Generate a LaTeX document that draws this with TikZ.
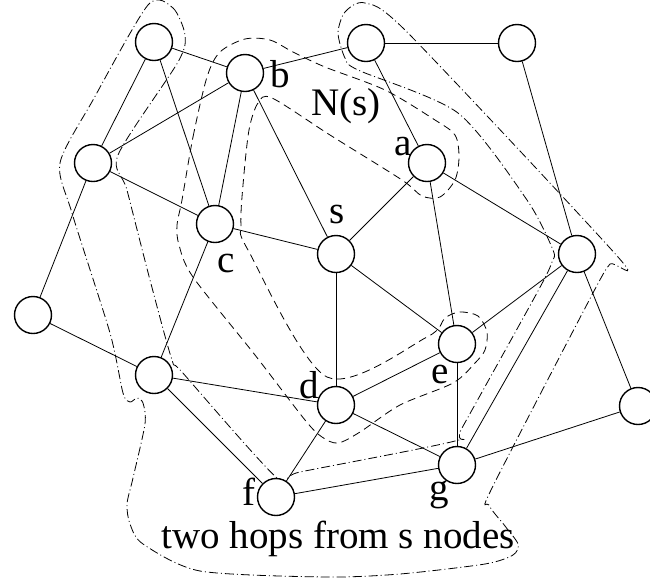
\documentclass[tikz,border=0pt]{standalone}
\usepackage{fontspec}
\setmainfont{Liberation Serif}

\tikzset{
  vertex/.style={circle, draw, fill=white, line width=1.4pt, minimum size=37pt, inner sep=0pt},
  lbl/.style={anchor=base, inner sep=0pt, font=\fontsize{39}{44}\selectfont},
  link/.style={line width=0.8pt},
  nbhd/.style={line width=0.8pt, dash pattern=on 8pt off 5pt},
  hops/.style={line width=0.8pt, dash pattern=on 9pt off 3pt on 1pt off 3pt},
}

\begin{document}
\begin{tikzpicture}[x=1pt, y=-1pt]
  \useasboundingbox (0,0) rectangle (650,582);

  % Regions
  \draw[nbhd] plot[smooth cycle, tension=0.5] coordinates {
    (182,200) (193,137) (207,77) (220,52) (245,39) (270,40) (293,52)
    (325,67) (385,90) (435,120) (455,135) (459,157) (455,180) (440,197)
    (422,196) (402,180) (330,135) (272,98) (258,103) (249,130) (243,185)
    (241,225) (248,250) (327,377) (427,337) (445,318) (460,312) (478,316)
    (487,332) (485,350) (475,363) (453,383) (400,405) (360,432) (338,443)
    (322,437) (305,420) (255,355) (193,277) (179,245) (177,225)};
  \draw[hops] plot[smooth cycle, tension=0.45] coordinates {
    (148,5) (173,8) (185,35) (178,62) (118,155) (127,190) (150,280)
    (172,360) (182,372) (277,478) (300,472) (455,441) (462,428) (538,291)
    (552,262) (553,250) (527,200) (458,113) (358,70) (345,58) (338,33)
    (345,12) (365,3) (408,33) (618,257) (610,264) (594,291) (492,488)
    (489,505) (505,526) (518,544) (513,555) (485,564) (400,574) (325,577)
    (200,571) (143,544) (130,524) (127,504) (133,478) (145,424) (143,403)
    (137,398) (130,402) (123,393) (110,333) (72,213) (60,163) (93,100)};

  % Define nodes
  \node[vertex] (u1) at (154,42)  {};
  \node[vertex] (b)  at (245,73)  {};
  \node[vertex] (u2) at (366,43)  {};
  \node[vertex] (u3) at (517,43)  {};
  \node[vertex] (u4) at (93,163)  {};
  \node[vertex] (a)  at (427,163) {};
  \node[vertex] (c)  at (215,224) {};
  \node[vertex] (s)  at (336,254) {};
  \node[vertex] (u5) at (577,254) {};
  \node[vertex] (u6) at (33,315)  {};
  \node[vertex] (e)  at (457,344) {};
  \node[vertex] (u7) at (154,375) {};
  \node[vertex] (d)  at (336,405) {};
  \node[vertex] (u8) at (638,406) {};
  \node[vertex] (g)  at (457,465) {};
  \node[vertex] (f)  at (276,497) {};

  % Labels
  \node[lbl] (lb) at (280,87)  {b};
  \node[lbl] (ns) at (346,115) {N(s)};
  \node[lbl] (la) at (403,155) {a};
  \node[lbl] (ls) at (337,223) {s};
  \node[lbl] (lc) at (226,272) {c};
  \node[lbl] (ld) at (309,398) {d};
  \node[lbl] (le) at (440,383) {e};
  \node[lbl] (lf) at (249,505) {f};
  \node[lbl] (lg) at (439,500) {g};
  \node[lbl] (hoplbl) at (338,548) {two hops from s nodes};

  % Connect the nodes
  \foreach \i/\j in {u1/b, u1/u4, u1/c, b/u2, b/u4, b/c, b/s, u2/u3, u2/a,
                     u3/u5, u4/c, u4/u6, a/s, a/e, a/u5, c/s, c/u7, s/d,
                     s/e, u5/e, u5/g, u5/u8, u6/u7, u7/d, u7/f, d/e, d/g,
                     d/f, e/g, f/g, g/u8}
    \draw[link] (\i) -- (\j);

\end{tikzpicture}
\end{document}
